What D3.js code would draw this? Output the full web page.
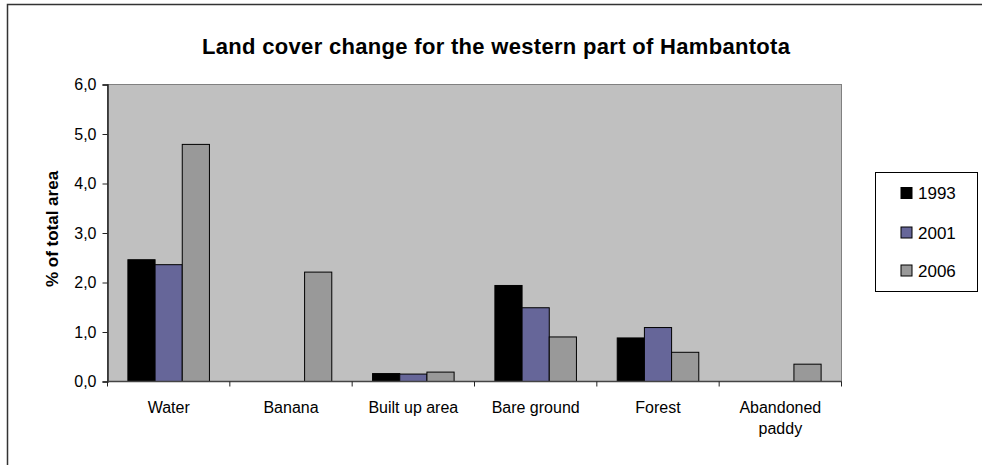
<!DOCTYPE html>
<html>
<head>
<meta charset="utf-8">
<script src="https://cdn.jsdelivr.net/npm/d3@7"></script>
<style>
  html, body { margin: 0; padding: 0; background: #fff; overflow: hidden; }
  svg { display: block; font-family: "Liberation Sans", Arial, sans-serif; }
</style>
</head>
<body>
<svg id="chart" width="982" height="465"></svg>
<script>
// Land cover categories (labels may wrap onto two lines)
const categories = ["Water", "Banana", "Built up area", "Bare ground", "Forest", "Abandoned paddy"];
const categoryLines = [["Water"], ["Banana"], ["Built up area"], ["Bare ground"], ["Forest"], ["Abandoned", "paddy"]];

// Share of total area (%) per year; null = no bar
const years = ["1993", "2001", "2006"];
const values1993 = [2.46, null, 0.16, 1.94, 0.88, null];
const values2001 = [2.36, null, 0.15, 1.49, 1.09, null];
const values2006 = [4.79, 2.21, 0.19, 0.90, 0.59, 0.35];
const seriesValues = [values1993, values2001, values2006];
const seriesColors = ["#000000", "#666699", "#999999"];

const yTicks = [0, 1, 2, 3, 4, 5, 6];
const yMax = 6;

const titleText = "Land cover change for the western part of Hambantota";
const yTitleText = "% of total area";

const svg = d3.select("#chart");

// Outer chart frame (extends past the bottom/right edges)
svg.append("rect")
  .attr("x", 7.5).attr("y", 4.5)
  .attr("width", 1200).attr("height", 700)
  .attr("fill", "#fff").attr("stroke", "#333").attr("stroke-width", 1.5);

const plot = { left: 107.5, right: 841.5, top: 84.5, bottom: 381.5 };

const x0 = d3.scaleBand()
  .domain(categories)
  .range([plot.left, plot.right])
  .padding(0);

const x1 = d3.scaleBand()
  .domain(years)
  .range([0, x0.bandwidth()])
  .paddingInner(0)
  .paddingOuter(0.75);

const y = d3.scaleLinear().domain([0, yMax]).range([plot.bottom, plot.top]);

// Plot area background
svg.append("rect")
  .attr("x", plot.left).attr("y", plot.top)
  .attr("width", plot.right - plot.left).attr("height", plot.bottom - plot.top)
  .attr("fill", "#c0c0c0").attr("stroke", "#808080").attr("stroke-width", 1);

// Bars
const groups = svg.append("g").selectAll("g")
  .data(categories)
  .join("g")
  .attr("transform", d => `translate(${x0(d)},0)`);

groups.selectAll("rect")
  .data((d, i) => years.map((yr, s) => ({ yr, s, v: seriesValues[s][i] })).filter(e => e.v != null))
  .join("rect")
  .attr("x", d => x1(d.yr))
  .attr("y", d => y(d.v))
  .attr("width", x1.bandwidth())
  .attr("height", d => y(0) - y(d.v))
  .attr("fill", d => seriesColors[d.s])
  .attr("stroke", "#000").attr("stroke-width", 1);

// Y axis
const fmt = d3.formatLocale({ decimal: ",", thousands: ".", grouping: [3], currency: ["", ""] }).format(".1f");
const yAxis = svg.append("g")
  .attr("transform", `translate(${plot.left},0)`)
  .call(d3.axisLeft(y).tickValues(yTicks).tickFormat(fmt).tickSize(5).tickPadding(6));
yAxis.select(".domain").attr("stroke", "#222").attr("stroke-width", 1.5);
yAxis.selectAll(".tick line").attr("stroke", "#222");
yAxis.selectAll("text").attr("font-size", 16).attr("fill", "#000")
  .attr("font-family", "'Liberation Sans', Arial, sans-serif");

// X axis with ticks at category boundaries
const xAxis = svg.append("g")
  .attr("transform", `translate(0,${plot.bottom})`);
xAxis.append("line")
  .attr("x1", plot.left).attr("x2", plot.right)
  .attr("stroke", "#444").attr("stroke-width", 1.5);
xAxis.selectAll(".btick")
  .data(categories.concat(["_end"]))
  .join("line")
  .attr("class", "btick")
  .attr("x1", (d, i) => i < categories.length ? x0(d) : plot.right)
  .attr("x2", (d, i) => i < categories.length ? x0(d) : plot.right)
  .attr("y1", 0).attr("y2", 5)
  .attr("stroke", "#222");

// Category labels
const labels = svg.append("g").selectAll("text")
  .data(categories)
  .join("text")
  .attr("x", d => x0(d) + x0.bandwidth() / 2)
  .attr("y", 413)
  .attr("text-anchor", "middle")
  .attr("font-size", 16)
  .attr("fill", "#000");
labels.each(function (d, i) {
  const t = d3.select(this);
  categoryLines[i].forEach((line, k) => {
    t.append("tspan")
      .attr("x", x0(d) + x0.bandwidth() / 2)
      .attr("dy", k === 0 ? 0 : 21)
      .text(line);
  });
});

// Title
svg.append("text")
  .attr("x", 496).attr("y", 54)
  .attr("text-anchor", "middle")
  .attr("font-size", 22).attr("font-weight", "bold")
  .attr("textLength", 588).attr("lengthAdjust", "spacing")
  .attr("fill", "#000")
  .text(titleText);

// Y axis title
svg.append("text")
  .attr("transform", `translate(58,229) rotate(-90)`)
  .attr("text-anchor", "middle")
  .attr("font-size", 17).attr("font-weight", "bold")
  .attr("fill", "#000")
  .text(yTitleText);

// Legend
const legend = svg.append("g");
legend.append("rect")
  .attr("x", 875.5).attr("y", 172.5)
  .attr("width", 102).attr("height", 119)
  .attr("fill", "#fff").attr("stroke", "#000").attr("stroke-width", 1);
const rowY = [193, 232.5, 270.5];
const items = legend.selectAll("g.item")
  .data(years)
  .join("g")
  .attr("class", "item")
  .attr("transform", (d, i) => `translate(0,${rowY[i]})`);
items.append("rect")
  .attr("x", 901).attr("y", -5.5)
  .attr("width", 11).attr("height", 11)
  .attr("fill", (d, i) => seriesColors[i])
  .attr("stroke", "#000").attr("stroke-width", 1);
items.append("text")
  .attr("x", 918).attr("y", 6)
  .attr("font-size", 17)
  .attr("fill", "#000")
  .text(d => d);
</script>
</body>
</html>
